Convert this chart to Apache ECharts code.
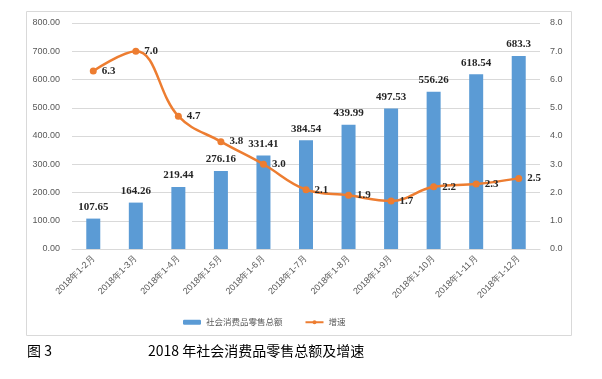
<!DOCTYPE html>
<html><head><meta charset="utf-8">
<script src="https://cdn.jsdelivr.net/npm/echarts@6/dist/echarts.min.js"></script>
<style>html,body{margin:0;padding:0;background:#fff}#c{width:602px;height:379px}</style>
</head><body><div id="c"></div>
<script>
const categories = ['2018年1-2月','2018年1-3月','2018年1-4月','2018年1-5月','2018年1-6月','2018年1-7月','2018年1-8月','2018年1-9月','2018年1-10月','2018年1-11月','2018年1-12月'];
const salesTotal = [107.65,164.26,219.44,276.16,331.41,384.54,439.99,497.53,556.26,618.54,683.3];
const growthRate = [6.3,7.0,4.7,3.8,3.0,2.1,1.9,1.7,2.2,2.3,2.5];
const salesLabels = ['107.65','164.26','219.44','276.16','331.41','384.54','439.99','497.53','556.26','618.54','683.3'];
const seriesNames = ['社会消费品零售总额','增速'];

const chart = echarts.init(document.getElementById('c'), null, {renderer:'canvas'});
const axisLabelStyle = {color:'#595959', fontSize:9, fontFamily:'Liberation Sans'};
chart.setOption({
  animation:false,
  grid:{left:72, right:62, top:23, bottom:130},
  graphic:[
    {type:'rect', shape:{x:26.5,y:11.5,width:545,height:324}, style:{fill:'none', stroke:'#D9D9D9', lineWidth:1}, z:-1},
    {type:'text', left:27, top:344, style:{text:'图 3', font:'14px "Noto Sans CJK SC"', fill:'#000'}},
    {type:'text', left:148, top:344, style:{text:'2018 年社会消费品零售总额及增速', font:'14px "Noto Sans CJK SC"', fill:'#000'}}
  ],
  legend:{
    data:seriesNames, top:313, left:178, itemGap:22, itemWidth:18, itemHeight:5,
    textStyle:{color:'#595959', fontSize:8.5, fontFamily:'Noto Sans CJK SC'}
  },
  xAxis:{
    type:'category', data:categories,
    axisLine:{lineStyle:{color:'#D9D9D9'}}, axisTick:{show:false},
    axisLabel:Object.assign({rotate:45, interval:0, margin:8}, axisLabelStyle)
  },
  yAxis:[
    {type:'value', min:0, max:800, interval:100,
     axisLabel:Object.assign({formatter:v=>v.toFixed(2), margin:12}, axisLabelStyle),
     splitLine:{lineStyle:{color:'#D9D9D9'}}, axisLine:{show:false}, axisTick:{show:false}},
    {type:'value', min:0, max:8, interval:1,
     axisLabel:Object.assign({formatter:v=>v.toFixed(1), margin:10}, axisLabelStyle),
     splitLine:{show:false}, axisLine:{show:false}, axisTick:{show:false}}
  ],
  series:[
    {name:seriesNames[0], type:'bar', data:salesTotal, barWidth:14, itemStyle:{color:'#5B9BD5'},
     label:{show:true, position:'top', distance:6, formatter:p=>salesLabels[p.dataIndex],
            fontFamily:'Liberation Serif', fontWeight:'bold', fontSize:11, color:'#262626'}},
    {name:seriesNames[1], type:'line', yAxisIndex:1, data:growthRate, smooth:0.4,
     symbol:'circle', symbolSize:7, lineStyle:{color:'#ED7D31', width:2.5}, itemStyle:{color:'#ED7D31'},
     label:{show:true, position:'right', distance:5, formatter:p=>p.value.toFixed(1),
            fontFamily:'Liberation Serif', fontWeight:'bold', fontSize:11, color:'#262626'}, z:5}
  ]
});
</script></body></html>
